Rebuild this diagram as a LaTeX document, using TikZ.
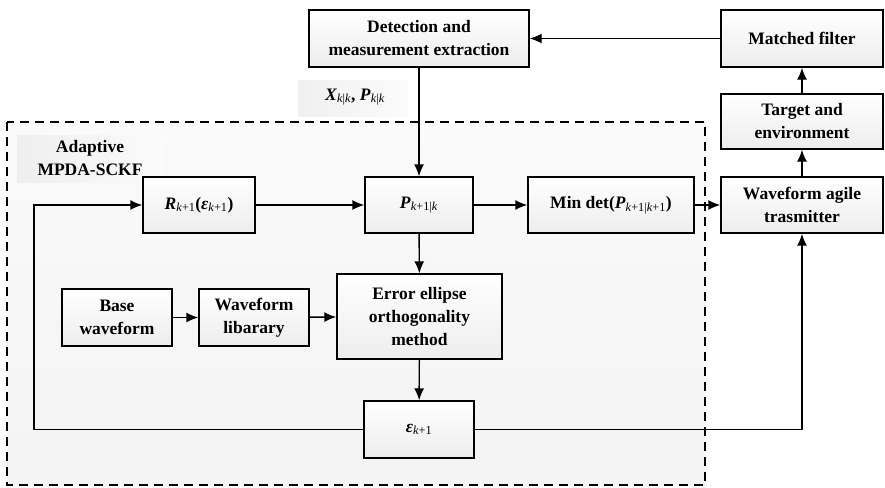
\documentclass[tikz,border=0pt]{standalone}
\usepackage{fontspec}
\setmainfont{Liberation Serif}
\usetikzlibrary{arrows.meta, positioning, backgrounds}
\tikzset{>={Latex[length=12pt,width=10pt]}}
\tikzset{blk/.style={draw, line width=1.4pt, top color=white, bottom color=gray!14,
  align=center, inner sep=2pt, font=\fontsize{17.5}{23}\selectfont\bfseries},
  lbl/.style={align=center, inner sep=2pt, font=\fontsize{17.5}{23}\selectfont\bfseries}}
\newcommand{\bv}[1]{\textbf{\textit{#1}}}
\newcommand{\lsub}[1]{\textsubscript{\normalfont #1}}

\begin{document}
\begin{tikzpicture}[x=1pt, y=-1pt, thick, line width=1.4pt]
		\useasboundingbox (0,0) rectangle (885,487);
		% adaptive filter region
		\draw [dashed, dash pattern=on 9pt off 6pt, line width=1.5pt, top color=gray!4, bottom color=gray!9] (7,122) rectangle (705,485);
		\fill [left color=gray!13, right color=gray!3] (17,135) rectangle (165,182);
		\fill [left color=gray!12, right color=gray!3] (298,80) rectangle (408,116);
		\node[lbl] (ad) at (90,158) {Adaptive\\MPDA-SCKF};
		\node[lbl] (xk) at (355,97) {\bv{X}\lsub{\textit{k}|\textit{k}}, \bv{P}\lsub{\textit{k}|\textit{k}}};
		
		\node[blk, minimum width=220pt, minimum height=57pt] (det) at (419,38.5) {Detection and\\measurement extraction};
		\node[blk, minimum width=162pt, minimum height=57pt] (mf) at (802,38.5) {Matched filter};
		\node[blk, minimum width=162pt, minimum height=55pt] (tgt) at (802,121.5) {Target and\\environment};
		\node[blk, minimum width=162pt, minimum height=56pt] (wat) at (802,205) {Waveform agile\\trasmitter};
		\node[blk, minimum width=112pt, minimum height=56pt] (R) at (199,205) {\bv{R}\lsub{\textit{k}+1}(\bv{ε}\lsub{\textit{k}+1})};
		\node[blk, minimum width=108pt, minimum height=56pt] (P) at (419,205) {\bv{P}\lsub{\textit{k}+1|\textit{k}}};
		\node[blk, minimum width=166pt, minimum height=56pt] (min) at (611,205) {Min det(\bv{P}\lsub{\textit{k}+1|\textit{k}+1})};
		\node[blk, minimum width=165pt, minimum height=85pt] (err) at (419.5,316.5) {Error ellipse\\orthogonality\\method};
		\node[blk, minimum width=110pt, minimum height=57pt] (base) at (117,317.5) {Base\\waveform};
		\node[blk, minimum width=110pt, minimum height=57pt] (lib) at (254,317.5) {Waveform\\libarary};
		\node[blk, minimum width=110pt, minimum height=57pt] (eps) at (419,429.5) {\textit{ε}\lsub{\textit{k}+1}};
		\coordinate (fb) at (34,429.5);
		
		\draw [->](mf) -- (det); \draw [->](det) -- (P);
		\draw [->](wat) -- (tgt); \draw [->](tgt) -- (mf);
		\draw [->](R) -- (P); \draw [->](P) -- (min); \draw [->](min) -- (wat);
		\draw [->](P) -- (err); \draw [->](err) -- (eps);
		\draw [->](base) -- (lib); \draw [->](lib) -- (err);
		\draw [->](eps.west) -- (fb) |- (R.west);
		\draw [->](eps.east) -| (wat.south);
		\end{tikzpicture}
\end{document}
